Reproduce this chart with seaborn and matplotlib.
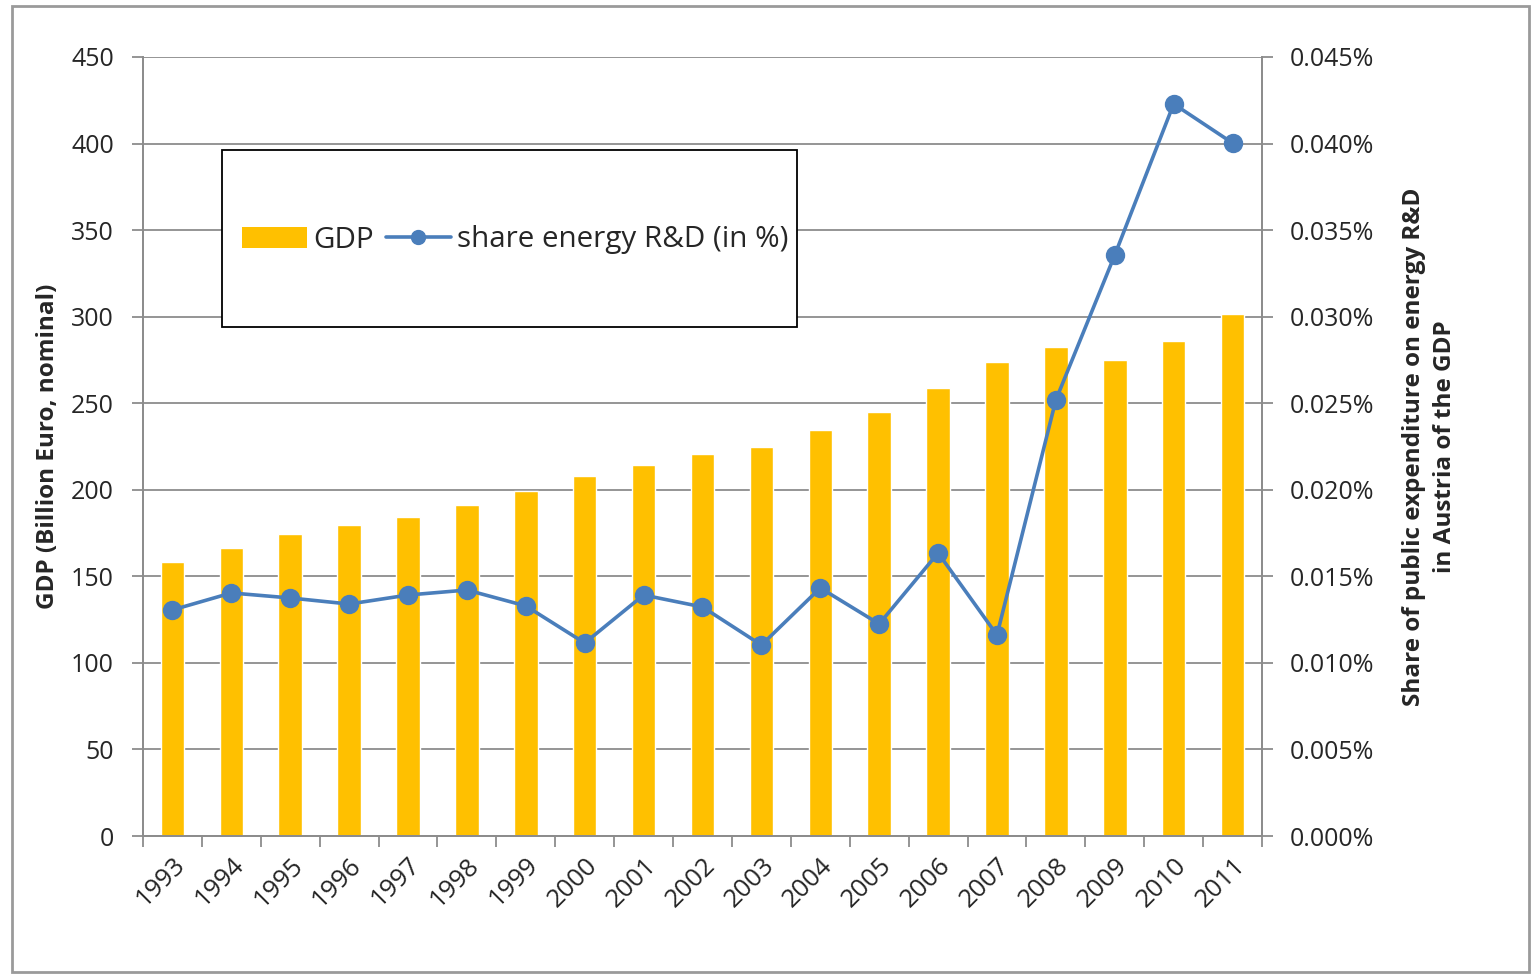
import pandas as pd
import matplotlib.pyplot as plt
import seaborn as sns
from matplotlib.patches import Patch, Rectangle
from matplotlib.lines import Line2D
from matplotlib.ticker import FuncFormatter, FixedLocator

# -----------------------------
# Data
# -----------------------------

years = ["1993", "1994", "1995", "1996", "1997", "1998", "1999", "2000", "2001", "2002",
         "2003", "2004", "2005", "2006", "2007", "2008", "2009", "2010", "2011"]

gdp = [158.3, 166.4, 174.5, 179.7, 184.3, 191.2, 199.3, 208.0, 214.3, 220.7,
       224.7, 234.5, 245.0, 258.8, 273.8, 282.5, 275.0, 286.0, 301.6]

# share in percent of GDP
share_rd = [0.01306, 0.01404, 0.01375, 0.01340, 0.01392, 0.01421, 0.01329, 0.01115, 0.01392, 0.01323,
            0.01103, 0.01433, 0.01225, 0.01635, 0.01161, 0.02519, 0.03356, 0.04229, 0.04003]

left_ticks = [0, 50, 100, 150, 200, 250, 300, 350, 400, 450]
right_ticks = [0.000, 0.005, 0.010, 0.015, 0.020, 0.025, 0.030, 0.035, 0.040, 0.045]

data = pd.DataFrame({"year": years, "gdp": gdp, "share": share_rd})

# -----------------------------
# Style
# -----------------------------

sns.set_style("white")
plt.rcParams["font.family"] = ["Open Sans", "DejaVu Sans"]

bar_color = "#FFC000"
line_color = "#4A7EBB"
grid_color = "#8C8C8C"

W, H = 1531, 976
fig = plt.figure(figsize=(W / 100, H / 100), dpi=100)
ax = fig.add_axes([143 / W, 1 - 836 / H, (1262 - 143) / W, (836 - 57) / H])

# -----------------------------
# Bars (GDP)
# -----------------------------

sns.barplot(data=data, x="year", y="gdp", color=bar_color, saturation=1,
            width=0.4, ax=ax, zorder=2)

ax.set_ylim(0, 450)
ax.set_yticks(left_ticks)
ax.yaxis.grid(True, color=grid_color, linewidth=1.3, zorder=0)
ax.set_axisbelow(True)
ax.tick_params(axis="y", labelsize=18, length=8, color=grid_color, width=1.3,
               direction="out", left=True, pad=13)
ax.set_ylabel("GDP (Billion Euro, nominal)", fontsize=17.5, fontweight="bold", labelpad=8)
ax.set_xlabel("")

# -----------------------------
# Line (share energy R&D)
# -----------------------------

ax2 = ax.twinx()
sns.pointplot(data=data, x="year", y="share", color=line_color, markers="o",
              linestyles="-", ax=ax2, markersize=12, linewidth=2.6)
ax2.set_ylim(0, 0.045)
ax2.set_yticks(right_ticks)
ax2.yaxis.set_major_formatter(FuncFormatter(lambda v, p: f"{v:.3f}%"))
ax2.tick_params(axis="y", labelsize=18, length=8, color=grid_color, width=1.3,
                direction="out", right=True, pad=12)
ax2.set_ylabel("Share of public expenditure on energy R&D\nin Austria of the GDP",
               fontsize=17.5, fontweight="bold", labelpad=20, linespacing=1.4)
ax2.set_xlabel("")

# -----------------------------
# X axis
# -----------------------------

for a in (ax, ax2):
    a.set_xlim(-0.5, len(years) - 0.5)
    a.spines["top"].set_visible(False)
    for s in ("left", "right", "bottom"):
        a.spines[s].set_color(grid_color)
        a.spines[s].set_linewidth(1.3)

ax.set_xticks(range(len(years)))
ax.set_xticklabels(years, rotation=45, ha="right", rotation_mode="anchor", fontsize=18.5)
ax.tick_params(axis="x", which="major", length=0, pad=12)
ax.xaxis.set_minor_locator(FixedLocator([i - 0.5 for i in range(len(years) + 1)]))
ax.tick_params(axis="x", which="minor", length=8, color=grid_color, width=1.3,
               direction="out", bottom=True)

# -----------------------------
# Legend
# -----------------------------

fig.patches.append(Rectangle((222 / W, 1 - 327 / H), (797 - 222) / W, (327 - 150) / H,
                             transform=fig.transFigure, fill=True, facecolor="white",
                             edgecolor="black", linewidth=1.3, zorder=5))
handles = [Patch(facecolor=bar_color, edgecolor="none", label="GDP"),
           Line2D([0], [0], color=line_color, marker="o", markersize=10, linewidth=2.6,
                  label="share energy R&D (in %)")]
leg = fig.legend(handles=handles, loc="center", bbox_to_anchor=(515 / W, 1 - 240 / H),
                 ncol=2, frameon=False, fontsize=21.3, handlelength=2.2, handletextpad=0.2,
                 columnspacing=0.4)
leg.set_zorder(6)

# outer frame
fig.patches.append(Rectangle((12 / W, 4 / H), (W - 14) / W, (H - 10) / H,
                             transform=fig.transFigure, fill=False,
                             edgecolor="#9A9A9A", linewidth=2))

fig.savefig("out.png", dpi=100)
plt.close()
